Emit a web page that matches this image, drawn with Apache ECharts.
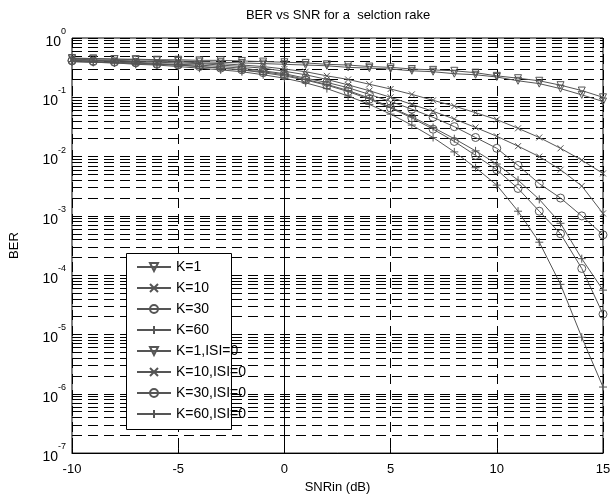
<!DOCTYPE html>
<html><head><meta charset="utf-8">
<script src="https://cdn.jsdelivr.net/npm/echarts@6/dist/echarts.min.js"></script>
<style>html,body{margin:0;padding:0;background:#fff}#c{width:614px;height:499px}</style>
</head><body><div id="c"></div>
<script>
const snr = [-10,-9,-8,-7,-6,-5,-4,-3,-2,-1,0,1,2,3,4,5,6,7,8,9,10,11,12,13,14,15];
const berK1 = [0.45,0.45,0.44,0.44,0.43,0.43,0.42,0.42,0.41,0.40,0.39,0.38,0.36,0.35,0.33,0.32,0.30,0.29,0.28,0.26,0.23,0.21,0.19,0.16,0.13,0.10];
const berK10 = [0.44,0.43,0.42,0.41,0.40,0.40,0.38,0.37,0.35,0.33,0.30,0.27,0.23,0.20,0.166,0.138,0.112,0.089,0.071,0.055,0.042,0.030,0.021,0.0138,0.0087,0.0052];
const berK30 = [0.42,0.41,0.40,0.39,0.37,0.36,0.35,0.33,0.31,0.28,0.25,0.21,0.178,0.145,0.112,0.085,0.063,0.046,0.032,0.021,0.0138,0.0071,0.0035,0.002,0.001,0.00048];
const berK60 = [0.40,0.39,0.38,0.37,0.36,0.35,0.33,0.31,0.29,0.27,0.24,0.20,0.165,0.13,0.097,0.068,0.047,0.031,0.020,0.0125,0.0075,0.0040,0.0019,0.00075,0.00019,0.000056];
const berK1i = [0.46,0.45,0.44,0.43,0.42,0.41,0.40,0.39,0.38,0.37,0.36,0.35,0.34,0.32,0.31,0.30,0.28,0.27,0.25,0.24,0.22,0.19,0.17,0.14,0.11,0.085];
const berK10i = [0.43,0.42,0.41,0.40,0.39,0.38,0.37,0.35,0.33,0.31,0.275,0.24,0.20,0.162,0.129,0.10,0.076,0.058,0.043,0.031,0.022,0.015,0.010,0.006,0.0032,0.0011];
const berK30i = [0.41,0.40,0.39,0.38,0.36,0.35,0.33,0.31,0.29,0.26,0.23,0.195,0.16,0.125,0.093,0.066,0.045,0.029,0.018,0.0105,0.0060,0.0029,0.0012,0.0005,0.00013,0.000022];
const berK60i = [0.40,0.39,0.38,0.36,0.35,0.33,0.31,0.29,0.27,0.24,0.21,0.175,0.14,0.105,0.076,0.052,0.034,0.021,0.012,0.0065,0.0033,0.0012,0.00036,0.00007,0.000009,0.0000013];
const seriesNames = ['K=1','K=10','K=30','K=60','K=1,ISI=0','K=10,ISI=0','K=30,ISI=0','K=60,ISI=0'];
const seriesData = [berK1,berK10,berK30,berK60,berK1i,berK10i,berK30i,berK60i];
const decadeExps = [-7,-6,-5,-4,-3,-2,-1];
const minorMult = [2,3,4,5,6,7,8,9];

const TRI = 'path://M0,0L10,0L5,9Z';
const XM = 'path://M0,0L10,10M10,0L0,10';
const PLUS = 'path://M5,0L5,10M0,5L10,5';
const symbols = [TRI, XM, 'circle', PLUS, TRI, XM, 'circle', PLUS];
const sizes = [7, 6, 8, 8, 7, 6, 8, 8];
const F = 'Liberation Sans, Arial, sans-serif';

const minorLines = [];
decadeExps.forEach(e => minorMult.forEach(m => minorLines.push({yAxis: m * Math.pow(10, e)})));
const dash = [10, 6];

const series = seriesNames.map((n, i) => ({
  name: n, type: 'line',
  data: snr.map((x, j) => [x, seriesData[i][j]]),
  symbol: symbols[i], symbolSize: sizes[i], showAllSymbol: true,
  lineStyle: {color: '#555', width: 1, type: 'solid'},
  itemStyle: {color: 'rgba(0,0,0,0)', borderColor: '#555', borderWidth: 1},
  emphasis: {disabled: true},
  animation: false,
  z: 2
}));
series[0].markLine = {
  silent: true, symbol: 'none', label: {show: false}, animation: false,
  precision: 12, z: 1,
  lineStyle: {type: dash, color: '#000', width: 1},
  emphasis: {disabled: true},
  data: minorLines
};

const chart = echarts.init(document.getElementById('c'));
chart.setOption({
  animation: false,
  backgroundColor: '#fff',
  title: {text: 'BER vs SNR for a  selction rake', left: 333, top: 4, textAlign: 'center',
    textStyle: {fontFamily: F, fontSize: 13, fontWeight: 'normal', color: '#000'}},
  grid: {left: 64, right: 11, top: 38, bottom: 37, show: true, borderColor: '#000', borderWidth: 1, backgroundColor: 'transparent'},
  legend: {
    data: seriesNames, orient: 'vertical', left: 136, top: 260, padding: 0,
    itemWidth: 34, itemHeight: 10, itemGap: 7,
    textStyle: {fontFamily: F, fontSize: 14, color: '#000'},
    selectedMode: false, z: 5
  },
  graphic: [{type: 'rect', left: 126, top: 253, shape: {width: 105, height: 176},
    style: {fill: '#fff', stroke: '#000', lineWidth: 1}, z: 3, silent: true}],
  xAxis: {
    type: 'value', min: -10, max: 15, interval: 5,
    name: 'SNRin (dB)', nameLocation: 'middle', nameGap: 24,
    nameTextStyle: {fontFamily: F, fontSize: 13, color: '#000'},
    axisLine: {lineStyle: {color: '#000'}},
    axisTick: {inside: true, length: 5, lineStyle: {color: '#000'}},
    axisLabel: {fontFamily: F, fontSize: 13, color: '#000', margin: 10},
    splitLine: {show: true, lineStyle: {type: dash, color: '#000', width: 1}}
  },
  yAxis: {
    type: 'log', logBase: 10, min: 1e-7, max: 1, interval: 1,
    name: 'BER', nameLocation: 'middle', nameGap: 51,
    nameTextStyle: {fontFamily: F, fontSize: 13, color: '#000'},
    axisLine: {show: true, lineStyle: {color: '#000'}},
    axisTick: {inside: true, length: 5, lineStyle: {color: '#000'}},
    axisLabel: {
      margin: 6,
      formatter: v => '{b|10}{e|' + Math.round(Math.log10(v)) + '}',
      rich: {
        b: {fontFamily: F, fontSize: 14, color: '#000', lineHeight: 22, verticalAlign: 'bottom'},
        e: {fontFamily: F, fontSize: 9, color: '#000', lineHeight: 12, verticalAlign: 'top'}
      }
    },
    splitLine: {show: true, lineStyle: {type: dash, color: '#000', width: 1}}
  },
  series: series
});
</script></body></html>
